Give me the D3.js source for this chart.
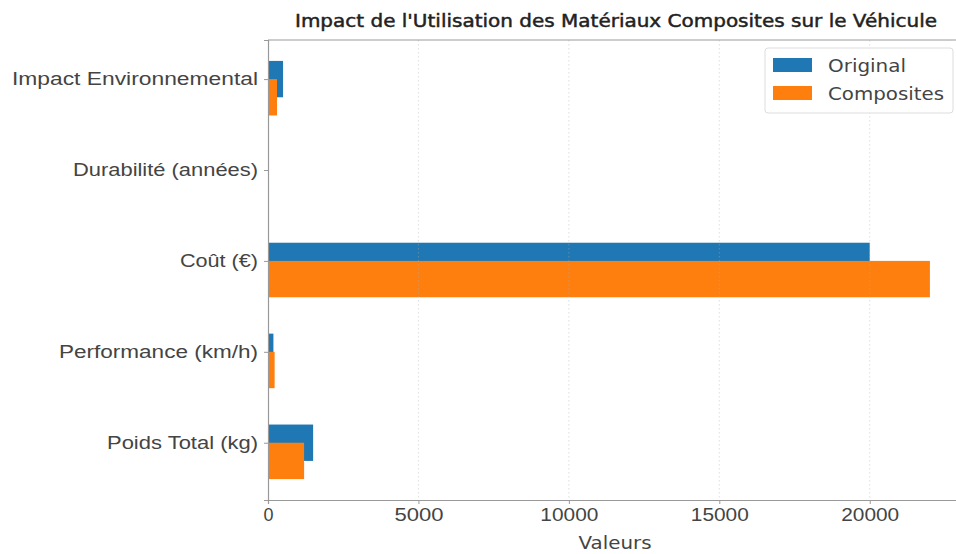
<!DOCTYPE html>
<html>
<head>
<meta charset="utf-8">
<script src="https://cdn.jsdelivr.net/npm/d3@7"></script>
<style>
  html, body { margin: 0; padding: 0; background: #fff; }
  svg { display: block; font-family: "DejaVu Sans", sans-serif; }
</style>
</head>
<body>
<svg id="chart" width="956" height="554"></svg>
<script>
// Data
const categories = ["Poids Total (kg)", "Performance (km/h)", "Coût (€)", "Durabilité (années)", "Impact Environnemental"];
const originalValues = [1500, 180, 20000, 10, 500];
const compositeValues = [1200, 220, 22000, 15, 300];
const seriesNames = ["Original", "Composites"];
const xTicks = [0, 5000, 10000, 15000, 20000];
const titleText = "Impact de l'Utilisation des Matériaux Composites sur le Véhicule";
const xLabel = "Valeurs";

(function () {
const colors = ["#1f77b4", "#ff7f0e"];
const svg = d3.select("#chart");
const mL = 268, mR = 963, mT = 40, mB = 500;

// widths of the wide reference font, used to stretch the installed font
const catWidths = [151, 199, 78, 185, 246];
const tickWidths = [10, 49, 58, 58, 58];
const legendWidths = [78, 116];

const x = d3.scaleLinear().domain([0, 23100]).range([mL, mR]);
const y = d3.scaleLinear().domain([-0.63, 4.43]).range([mB, mT]);
const barH = 0.4;

const series = [originalValues, compositeValues];
const offsets = [0, -0.2];

series.forEach((vals, si) => {
  svg.append("g").selectAll("rect").data(vals).join("rect")
    .attr("x", x(0))
    .attr("y", (d, i) => y(i + offsets[si] + barH / 2))
    .attr("width", d => x(d) - x(0))
    .attr("height", (d, i) => y(i + offsets[si] - barH / 2) - y(i + offsets[si] + barH / 2))
    .attr("fill", colors[si]);
});

svg.append("g").selectAll("line").data(xTicks.slice(1)).join("line")
  .attr("x1", d => x(d)).attr("x2", d => x(d))
  .attr("y1", mT).attr("y2", mB)
  .attr("stroke", "#b0b0b0").attr("stroke-opacity", 0.5)
  .attr("stroke-dasharray", "1.5,2.5").attr("stroke-width", 0.8);

const xAxis = svg.append("g").attr("transform", `translate(0,${mB})`)
  .call(d3.axisBottom(x).tickValues(xTicks).tickFormat(d3.format("d")).tickSize(4).tickPadding(5));
xAxis.select(".domain").attr("stroke", "#999").attr("stroke-width", 1.2);
xAxis.selectAll(".tick line").attr("stroke", "#999");
xAxis.selectAll("text").attr("fill", "#444").attr("font-size", 17.5)
  .attr("textLength", (d, i) => tickWidths[i]).attr("lengthAdjust", "spacingAndGlyphs");

const yAxis = svg.append("g").attr("transform", `translate(${mL},0)`)
  .call(d3.axisLeft(y).tickValues(d3.range(categories.length)).tickFormat(i => categories[i]).tickSize(4).tickPadding(6));
yAxis.select(".domain").attr("stroke", "#999").attr("stroke-width", 1.2);
yAxis.selectAll(".tick line").attr("stroke", "#999");
yAxis.selectAll("text").attr("fill", "#444").attr("font-size", 17.5)
  .attr("textLength", (d) => catWidths[d]).attr("lengthAdjust", "spacingAndGlyphs");

svg.append("line").attr("x1", mL).attr("x2", mR).attr("y1", mT).attr("y2", mT)
  .attr("stroke", "#999").attr("stroke-width", 1.2);

svg.append("text").attr("x", 616).attr("y", 27).attr("text-anchor", "middle")
  .attr("font-size", 17).attr("fill", "#222").attr("stroke", "#222").attr("stroke-width", 0.45)
  .attr("textLength", 642).attr("lengthAdjust", "spacingAndGlyphs").text(titleText);

svg.append("text").attr("x", 615).attr("y", 549).attr("text-anchor", "middle")
  .attr("font-size", 17).attr("fill", "#444")
  .attr("textLength", 73).attr("lengthAdjust", "spacingAndGlyphs").text(xLabel);

const lg = svg.append("g").attr("transform", "translate(765,48)");
lg.append("rect").attr("x", 0).attr("y", 0).attr("width", 188).attr("height", 65)
  .attr("rx", 3).attr("fill", "#fff").attr("fill-opacity", 0.8).attr("stroke", "#ddd");
seriesNames.forEach((n, i) => {
  lg.append("rect").attr("x", 8).attr("y", 10 + i * 28).attr("width", 39).attr("height", 14).attr("fill", colors[i]);
  lg.append("text").attr("x", 63).attr("y", 24 + i * 28).attr("font-size", 17.5).attr("fill", "#444")
    .attr("textLength", legendWidths[i]).attr("lengthAdjust", "spacingAndGlyphs").text(n);
});
})();
</script>
</body>
</html>
